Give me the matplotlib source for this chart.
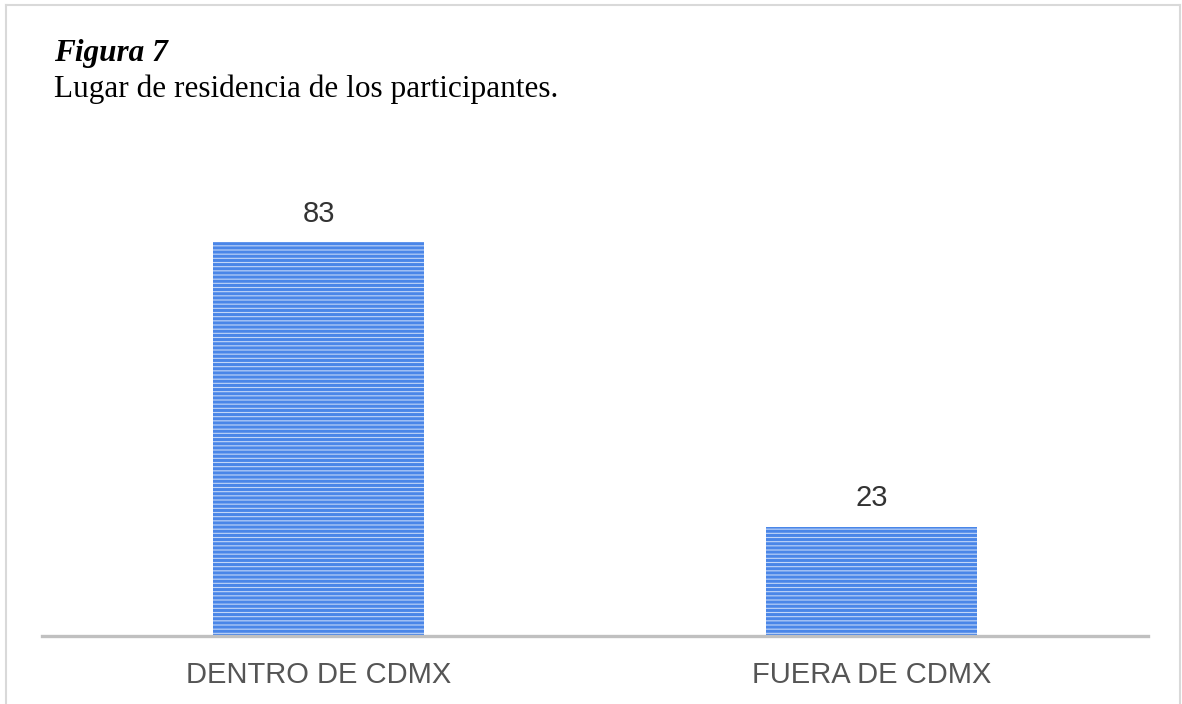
import matplotlib
matplotlib.use("Agg")
import matplotlib.pyplot as plt
from matplotlib.lines import Line2D

categories = ["DENTRO DE CDMX", "FUERA DE CDMX"]
values = [83, 23]
title = "Figura 7"
subtitle = "Lugar de residencia de los participantes."

plt.rcParams["hatch.linewidth"] = 2.2
plt.rcParams["hatch.color"] = "#4a86e8"

fig = plt.figure(figsize=(11.82, 7.04), dpi=100)
fig.patch.set_facecolor("white")

ax = fig.add_axes([42 / 1182, 68 / 704, 1106 / 1182, 475 / 704])
x = list(range(len(categories)))
bars = ax.bar(x, values, width=0.38, color="#c2d6f8", edgecolor="#4a86e8",
              hatch="----", linewidth=0)
ax.set_xlim(-0.5, 1.5)
ax.set_ylim(0, 100)
for xi, v in zip(x, values):
    ax.text(xi, v + 3.0, str(v), ha="center", va="bottom",
            fontsize=21, color="#333333", family="Liberation Sans")
ax.set_xticks(x)
ax.set_xticklabels(categories, fontsize=21, color="#555555", family="Liberation Sans")
ax.tick_params(axis="x", length=0, pad=18)
ax.set_yticks([])
for s in ["top", "left", "right"]:
    ax.spines[s].set_visible(False)
ax.spines["bottom"].set_color("#c0c0c0")
ax.spines["bottom"].set_linewidth(2.4)

fig.text(54 / 1182, 1 - 61 / 704, title, fontsize=22.5, fontweight="bold",
         fontstyle="italic", family="Liberation Serif", ha="left", va="baseline")
fig.text(54 / 1182, 1 - 97 / 704, subtitle, fontsize=22.5,
         family="Liberation Serif", ha="left", va="baseline")

# frame
for (x0, y0, x1, y1) in [(6, 5, 1180, 5), (6, 5, 6, 704), (1180, 5, 1180, 704)]:
    fig.add_artist(Line2D([x0 / 1182, x1 / 1182], [1 - y0 / 704, 1 - y1 / 704],
                          transform=fig.transFigure, color="#d9d9d9", lw=1.5))

fig.savefig("out.png", dpi=100)
